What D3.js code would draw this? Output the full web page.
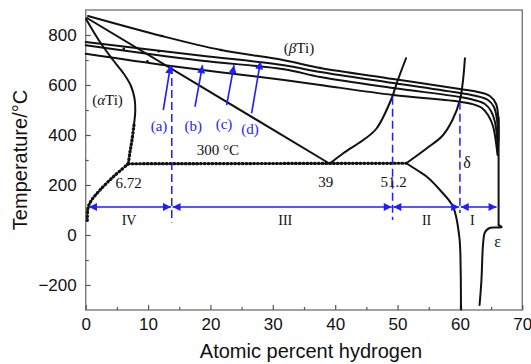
<!DOCTYPE html>
<html>
<head>
<meta charset="utf-8">
<script src="https://cdn.jsdelivr.net/npm/d3@7"></script>
<style>
  body { margin: 0; background: #fff; }
  svg { display: block; }
</style>
</head>
<body>
<svg id="chart" width="531" height="364"></svg>
<script>
// ---- axis ticks ----
const xTicks = [0, 10, 20, 30, 40, 50, 60, 70];
const xMinorTicks = [5, 15, 25, 35, 45, 55, 65];
const yTicks = [-200, 0, 200, 400, 600, 800];
const yMinorTicks = [-100, 100, 300, 500, 700];

// ---- phase boundaries: [atomic % H, temperature °C] ----
// beta transus curves for the four conditions, bending into the delta/epsilon edge
const betaLineA = [[0.37, 876], [12.2, 796], [21.7, 740], [31.8, 699], [37.6, 668], [49.3, 624],
  [60.0, 584], [62.9, 572], [64.8, 556], [65.8, 524], [66.15, 468], [66.2, 380]];
const betaLineB = [[0, 772], [18.3, 718], [31.8, 679], [37.6, 652], [49.3, 608], [60.0, 568],
  [62.6, 556], [64.5, 540], [65.46, 512], [65.95, 460], [66.15, 360]];
const betaLineC = [[0, 759], [18.3, 698], [31.8, 663], [37.6, 632], [49.3, 588], [60.0, 552],
  [62.26, 540], [64.0, 524], [64.98, 496], [65.62, 452], [66.1, 340]];
const betaLineD = [[0, 725], [13.7, 676], [31.8, 620], [37.6, 600], [49.3, 560], [60.0, 533],
  [61.94, 524], [63.54, 508], [64.5, 480], [65.3, 436], [66.03, 320]];
// right-hand edge and the epsilon boundary
const edgeLine = [[66.2, 470], [66.2, 40]];
const epsilonLine = [[66.2, 40], [66.7, 31], [65.6, 30], [64.6, 26], [64.0, 10], [63.7, -40],
  [63.45, -180], [63.15, -280]];
// beta / alpha+beta boundary down to the eutectoid point
const betaAlphaLine = [[0.2, 868], [39.0, 287]];
// alpha transus (solid upper part, dotted lower part)
const alphaUpper = [[0.05, 864], [2.29, 772], [4.38, 700], [6.14, 644], [7.26, 596], [7.82, 548],
  [7.95, 500], [7.74, 440]];
const alphaLower = [[7.74, 440], [7.42, 380], [7.1, 332], [6.83, 285]];
// alpha solvus below the eutectoid (dotted)
const alphaSolvus = [[6.83, 285], [4.43, 233], [2.29, 180], [0.96, 140], [0.42, 113], [0.26, 73], [0.26, 48]];
// eutectoid isotherm (dotted)
const eutectoid = [[6.83, 285], [51.4, 287]];
// beta / delta boundaries above the eutectoid
const betaRight = [[39.2, 287], [41.3, 327], [44.5, 380], [46.6, 425], [49.06, 547], [49.86, 607], [51.36, 707]];
const deltaUpper = [[51.4, 287], [54.7, 347], [57.2, 397], [58.8, 460], [60.0, 540], [60.5, 620], [60.8, 707]];
// delta solvus below the eutectoid
const deltaLower = [[51.4, 287], [53.1, 260], [54.7, 233], [56.8, 180], [58.9, 113], [59.9, -7],
  [60.12, -140], [60.17, -280], [60.2, -298]];
// small data markers on the beta transus curves
const betaMarks = [[12.2, 796], [21.7, 740], [6.1, 745], [11.7, 735], [9.9, 695], [37.6, 668]];

// ---- annotations ----
const condArrows = [
  { label: "(a)", from: [12.44, 500], to: [13.6, 678], text: [11.75, 416] },
  { label: "(b)", from: [17.52, 513], to: [18.73, 679], text: [17.25, 416] },
  { label: "(c)", from: [22.6, 520], to: [23.78, 679], text: [22.17, 424] },
  { label: "(d)", from: [26.6, 487], to: [28.03, 695], text: [26.34, 404] }
];
const regionBounds = [0.4, 13.8, 49.2, 60.0, 66.0];
const regionNames = ["IV", "III", "II", "I"];
const regionLabelX = [6.95, 32.0, 54.65, 62.0];
const regionArrowT = 112;
const guideLines = [
  { x: 13.8, top: 676, bottom: 50 },
  { x: 49.2, top: 553, bottom: 60 },
  { x: 60.0, top: 533, bottom: 88 }
];
const compLabels = [
  { text: "6.72", x: 6.9, t: 188 },
  { text: "39", x: 38.5, t: 192 },
  { text: "51.2", x: 49.35, t: 192 }
];

const svg = d3.select("#chart");
const x = d3.scaleLinear().domain([0, 70]).range([85.7, 522.3]);
const y = d3.scaleLinear().domain([-300, 900]).range([310, 10]);
const blue = "#1e1eff";
const serif = "'Liberation Serif', 'Times New Roman', serif";
const sans = "'Liberation Sans', Arial, sans-serif";

const defs = svg.append("defs");
defs.append("marker")
  .attr("id", "head").attr("viewBox", "0 0 10 10")
  .attr("refX", 10).attr("refY", 5)
  .attr("markerWidth", 9).attr("markerHeight", 8)
  .attr("markerUnits", "userSpaceOnUse")
  .attr("orient", "auto-start-reverse")
  .append("path").attr("d", "M0,0 L10,5 L0,10 Z").attr("fill", blue);

// frame
svg.append("rect")
  .attr("x", x(0)).attr("y", y(900))
  .attr("width", x(70) - x(0)).attr("height", y(-300) - y(900))
  .attr("fill", "none").attr("stroke", "#7a7a7a").attr("stroke-width", 1.4);

// axes with inward ticks
const xAxis = svg.append("g").attr("transform", `translate(0,${y(-300)})`)
  .call(d3.axisBottom(x).tickValues(xTicks).tickSizeInner(-5).tickSizeOuter(0).tickPadding(8));
const xMinor = svg.append("g").attr("transform", `translate(0,${y(-300)})`)
  .call(d3.axisBottom(x).tickValues(xMinorTicks).tickSizeInner(-3).tickSizeOuter(0).tickFormat(""));
const yAxis = svg.append("g").attr("transform", `translate(${x(0)},0)`)
  .call(d3.axisLeft(y).tickValues(yTicks).tickSizeInner(-5).tickSizeOuter(0).tickPadding(9)
    .tickFormat(d => d < 0 ? "\u2212" + Math.abs(d) : d));
const yMinor = svg.append("g").attr("transform", `translate(${x(0)},0)`)
  .call(d3.axisLeft(y).tickValues(yMinorTicks).tickSizeInner(-3).tickSizeOuter(0).tickFormat(""));
[xAxis, xMinor, yAxis, yMinor].forEach(g => {
  g.select(".domain").remove();
  g.selectAll(".tick line").attr("stroke", "#555").attr("stroke-width", 1.2);
  g.selectAll(".tick text").attr("fill", "#111").style("font-family", sans).style("font-size", "17px");
});

// axis titles
svg.append("text")
  .attr("x", 311).attr("y", 358).attr("text-anchor", "middle")
  .style("font-family", sans).style("font-size", "20px").attr("fill", "#111")
  .text("Atomic percent hydrogen");
svg.append("text")
  .attr("transform", `translate(26.5,160) rotate(-90)`).attr("text-anchor", "middle")
  .style("font-family", sans).style("font-size", "20px").attr("fill", "#111")
  .text("Temperature/°C");

// phase boundaries
const line = d3.line().x(d => x(d[0])).y(d => y(d[1])).curve(d3.curveCatmullRom.alpha(0.5));
const solid = [betaLineA, betaLineB, betaLineC, betaLineD, edgeLine, epsilonLine,
  betaAlphaLine, alphaUpper, betaRight, deltaUpper, deltaLower];
svg.append("g").selectAll("path").data(solid).join("path")
  .attr("d", line).attr("fill", "none").attr("stroke", "#111")
  .attr("stroke-width", 2).attr("stroke-linejoin", "round").attr("stroke-linecap", "round");
const dotted = [alphaLower, alphaSolvus, eutectoid];
svg.append("g").selectAll("path").data(dotted).join("path")
  .attr("d", line).attr("fill", "none").attr("stroke", "#111")
  .attr("stroke-width", 3.2).attr("stroke-linecap", "round")
  .attr("stroke-dasharray", "0.8 3.0");
svg.append("g").selectAll("circle").data(betaMarks).join("circle")
  .attr("cx", d => x(d[0])).attr("cy", d => y(d[1])).attr("r", 1.3).attr("fill", "#111");

// blue guide lines at the region boundaries
svg.append("g").selectAll("line").data(guideLines).join("line")
  .attr("x1", d => x(d.x)).attr("x2", d => x(d.x))
  .attr("y1", d => y(d.top)).attr("y2", d => y(d.bottom))
  .attr("stroke", blue).attr("stroke-width", 1.5).attr("stroke-dasharray", "8 4");

// double-headed region arrows
const regions = regionNames.map((n, i) => ({ name: n, a: regionBounds[i], b: regionBounds[i + 1], lx: regionLabelX[i] }));
svg.append("g").selectAll("line").data(regions).join("line")
  .attr("x1", d => x(d.a) + 0.8).attr("x2", d => x(d.b) - 0.8)
  .attr("y1", y(regionArrowT)).attr("y2", y(regionArrowT))
  .attr("stroke", blue).attr("stroke-width", 1.5)
  .attr("marker-start", "url(#head)").attr("marker-end", "url(#head)");
svg.append("g").selectAll("text").data(regions).join("text")
  .attr("x", d => x(d.lx)).attr("y", y(regionArrowT) + 18).attr("text-anchor", "middle")
  .style("font-family", serif).style("font-size", "14px").attr("fill", "#111")
  .text(d => d.name);

// condition arrows (a)-(d)
svg.append("g").selectAll("line").data(condArrows).join("line")
  .attr("x1", d => x(d.from[0])).attr("y1", d => y(d.from[1]))
  .attr("x2", d => x(d.to[0])).attr("y2", d => y(d.to[1]))
  .attr("stroke", blue).attr("stroke-width", 1.6).attr("marker-end", "url(#head)");
svg.append("g").selectAll("text").data(condArrows).join("text")
  .attr("x", d => x(d.text[0])).attr("y", d => y(d.text[1]))
  .attr("text-anchor", "middle")
  .style("font-family", serif).style("font-size", "15px").attr("fill", blue)
  .text(d => d.label);

// composition labels
svg.append("g").selectAll("text").data(compLabels).join("text")
  .attr("x", d => x(d.x)).attr("y", d => y(d.t)).attr("text-anchor", "middle")
  .style("font-family", serif).style("font-size", "15px").attr("fill", "#111")
  .text(d => d.text);

// phase and temperature labels
const phaseText = svg.append("g").style("font-family", serif).style("font-size", "15px").attr("fill", "#111");
phaseText.append("text").attr("x", 218).attr("y", 155).attr("text-anchor", "middle").text("300 °C");
const aT = phaseText.append("text").attr("x", 107.5).attr("y", 105).attr("text-anchor", "middle");
aT.append("tspan").text("(");
aT.append("tspan").style("font-style", "italic").text("α");
aT.append("tspan").text("Ti)");
const bT = phaseText.append("text").attr("x", 299).attr("y", 53).attr("text-anchor", "middle");
bT.append("tspan").text("(");
bT.append("tspan").style("font-style", "italic").text("β");
bT.append("tspan").text("Ti)");
phaseText.append("text").attr("x", 467).attr("y", 168).attr("text-anchor", "middle").style("font-size", "16px").text("δ");
phaseText.append("text").attr("x", 497.5).attr("y", 246.5).attr("text-anchor", "middle").style("font-size", "16px").text("ε");
</script>
</body>
</html>
